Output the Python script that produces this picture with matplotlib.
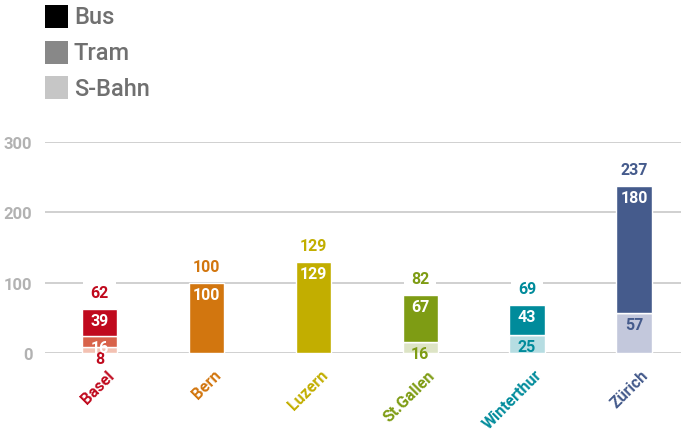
import numpy as np
import matplotlib
matplotlib.use("Agg")
import matplotlib.pyplot as plt
from matplotlib.patches import Rectangle
from matplotlib.transforms import offset_copy

plt.rcParams["font.family"] = ["Roboto", "DejaVu Sans"]

# --- data -------------------------------------------------------------------
cities = ["Basel", "Bern", "Luzern", "St.Gallen", "Winterthur", "Zürich"]
sbahn = [8, 0, 0, 16, 25, 57]
tram = [16, 0, 0, 0, 0, 0]
bus = [39, 100, 129, 67, 43, 180]
totals = [62, 100, 129, 82, 69, 237]

# city colours: (bus, tram, s-bahn)
col_bus = ["#c00a1e", "#d2760f", "#c2ae00", "#7e9c14", "#008b9b", "#455b8c"]
col_tram = ["#d8624a", "#d2760f", "#c2ae00", "#7e9c14", "#008b9b", "#455b8c"]
col_sbahn = ["#f3c1b2", "#f0cfa6", "#ebe2a0", "#dde4c5", "#b6dde2", "#c3c8dc"]

legend_labels = ["Bus", "Tram", "S-Bahn"]
legend_colors = ["#000000", "#888888", "#c6c6c6"]

W, H = 681, 439
fig = plt.figure(figsize=(W / 100, H / 100), dpi=100)
ax = fig.add_axes([45 / W, 85 / H, 1 - 45 / W, 211 / H])

x = np.arange(len(cities))
bw = 0.33
ax.bar(x, sbahn, bw, color=col_sbahn, edgecolor="white", lw=1, zorder=3)
ax.bar(x, tram, bw, bottom=sbahn, color=col_tram, edgecolor="white", lw=1, zorder=3)
bot_bus = np.array(sbahn) + np.array(tram)
ax.bar(x, bus, bw, bottom=bot_bus, color=col_bus, edgecolor="white", lw=1, zorder=3)

# segment labels, hanging from the top of each segment
down = offset_copy(ax.transData, fig=fig, x=0, y=-4, units="dots")
for i in range(len(cities)):
    if sbahn[i] > 0:
        ax.text(x[i], sbahn[i], str(sbahn[i]), transform=down, ha="center", va="top",
                fontsize=11.5, fontweight="bold", color=col_bus[i], zorder=5, clip_on=False)
    if tram[i] > 0:
        ax.text(x[i], sbahn[i] + tram[i], str(tram[i]), transform=down, ha="center", va="top",
                fontsize=11.5, fontweight="bold", color="white", zorder=5)
    ax.text(x[i], bot_bus[i] + bus[i], str(bus[i]), transform=down, ha="center", va="top",
            fontsize=11.5, fontweight="bold", color="white", zorder=5)

# totals above the bars, on white so the grid is broken
up = offset_copy(ax.transData, fig=fig, x=0, y=9, units="dots")
for i in range(len(cities)):
    ax.text(x[i], bot_bus[i] + bus[i], str(totals[i]), transform=up, ha="center", va="bottom",
            fontsize=11.5, fontweight="bold", color=col_bus[i], zorder=4, clip_on=False,
            bbox=dict(boxstyle="square,pad=0.45", fc="white", ec="none"))

# city names, rotated
lab = offset_copy(ax.transData, fig=fig, x=7, y=-14, units="dots")
for i, c in enumerate(cities):
    ax.text(x[i], 0, c, transform=lab, rotation=45, rotation_mode="anchor",
            ha="right", va="top", fontsize=11.5, fontweight="bold", color=col_bus[i],
            clip_on=False)

ax.set_xlim(-0.51, 5.44)
ax.set_ylim(0, 300)
ax.set_yticks([0, 100, 200, 300])
ax.set_xticks([])
ax.yaxis.grid(True, color="#c8c8c8", lw=1.2, zorder=0)
ax.tick_params(axis="y", length=0, pad=9, labelsize=12, labelcolor="#b2b2b2")
for t in ax.get_yticklabels():
    t.set_fontweight("bold")
for s in ax.spines.values():
    s.set_visible(False)

# legend at top left
for k, (lbl, c) in enumerate(zip(legend_labels, legend_colors)):
    y0 = 6 + 35.5 * k
    fig.patches.append(Rectangle((45 / W, 1 - (y0 + 23) / H), 23 / W, 23 / H,
                                 transform=fig.transFigure, fc=c, ec="none"))
    fig.text(74 / W, 1 - (y0 + 12) / H, lbl, ha="left", va="center",
             fontsize=17, color="#707070", fontweight="medium")

fig.savefig("out.png", dpi=100)
